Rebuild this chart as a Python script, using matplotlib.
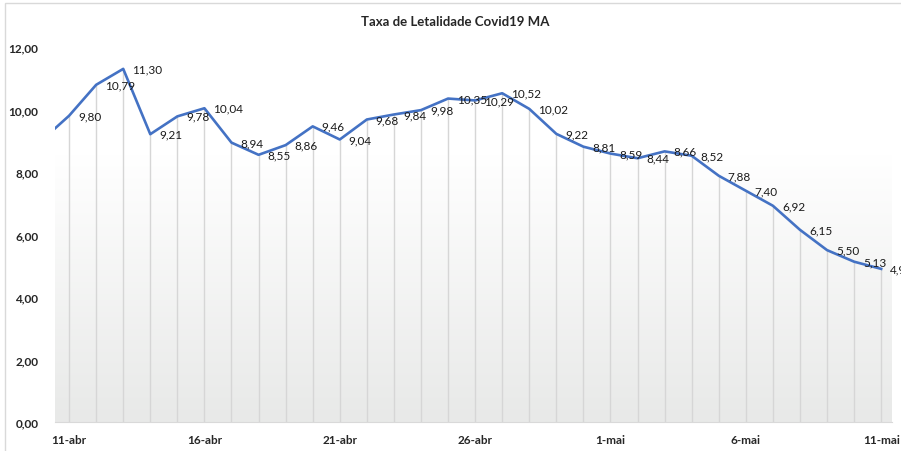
import numpy as np
import pandas as pd
import matplotlib
matplotlib.use('Agg')
import matplotlib.pyplot as plt
from matplotlib.patches import Rectangle

plt.rcParams['font.family'] = ['Lato', 'DejaVu Sans']

# daily series (first day only shows as the line entering the plot)
dates = pd.date_range('2020-04-10', '2020-05-11')
taxa = [9.02, 9.80, 10.79, 11.30, 9.21, 9.78, 10.04, 8.94, 8.55, 8.86, 9.46,
        9.04, 9.68, 9.84, 9.98, 10.35, 10.29, 10.52, 10.02, 9.22, 8.81,
        8.59, 8.44, 8.66, 8.52, 7.88, 7.40, 6.92, 6.15, 5.50, 5.13, 4.90]
meses = {4: 'abr', 5: 'mai'}
tick_dates = ['2020-04-11', '2020-04-16', '2020-04-21', '2020-04-26',
              '2020-05-01', '2020-05-06', '2020-05-11']
y_ticks = [0, 2, 4, 6, 8, 10, 12]

x = np.arange(len(dates))
fig = plt.figure(figsize=(9.01, 4.52), dpi=100)
fig.patches.append(Rectangle((5 / 901, -0.1), 1.2, 1.1 - 4 / 452,
                             transform=fig.transFigure, fill=False,
                             edgecolor='#d9d9d9', linewidth=1))
ax = fig.add_axes([55 / 901, 29 / 452, 837 / 901, 375 / 452])

# plot area gradient (white on top, light grey at the base)
grad = np.linspace(0, 1, 256).reshape(-1, 1)
cmap = matplotlib.colors.LinearSegmentedColormap.from_list('g', ['#ffffff', '#e8e9e8'])
ax.imshow(grad, cmap=cmap, aspect='auto', extent=[0.48, 31.4, 0, 8.55],
          origin='upper', zorder=0)

# drop lines
ax.vlines(x[1:], 0, taxa[1:], color='#d6d6d6', linewidth=1, zorder=1)
ax.plot(x, taxa, color='#4472C4', linewidth=1.9, zorder=3, solid_joinstyle='round')

for xi, v in zip(x[1:], taxa[1:]):
    ax.annotate(f'{v:.2f}'.replace('.', ','), (xi, v), xytext=(6.5, 0),
                textcoords='offset points', ha='left', va='center',
                fontsize=8.5, color='#1a1a1a', zorder=4, annotation_clip=False)

ax.set_xlim(0.48, 31.4)
ax.set_ylim(0, 12)
ax.set_yticks(y_ticks)
ax.set_yticklabels([f'{t:.2f}'.replace('.', ',') for t in y_ticks],
                   fontsize=8.5, fontweight='bold', color='#262626')
tpos = [dates.get_loc(pd.Timestamp(d)) for d in tick_dates]
ax.set_xticks(tpos)
ax.set_xticklabels([f'{dates[i].day}-{meses[dates[i].month]}' for i in tpos],
                   fontsize=8.5, fontweight='bold', color='#262626')
ax.tick_params(axis='both', length=0)
ax.tick_params(axis='y', pad=12)
ax.tick_params(axis='x', pad=9)
for s in ['top', 'right', 'left']:
    ax.spines[s].set_visible(False)
ax.spines['bottom'].set_color('#d9d9d9')
ax.set_facecolor('white')

fig.text(0.505, 1 - 22 / 452, 'Taxa de Letalidade Covid19 MA', ha='center',
         va='center', fontsize=9.5, fontweight='bold', color='#262626')

fig.savefig('out.png', dpi=100)
